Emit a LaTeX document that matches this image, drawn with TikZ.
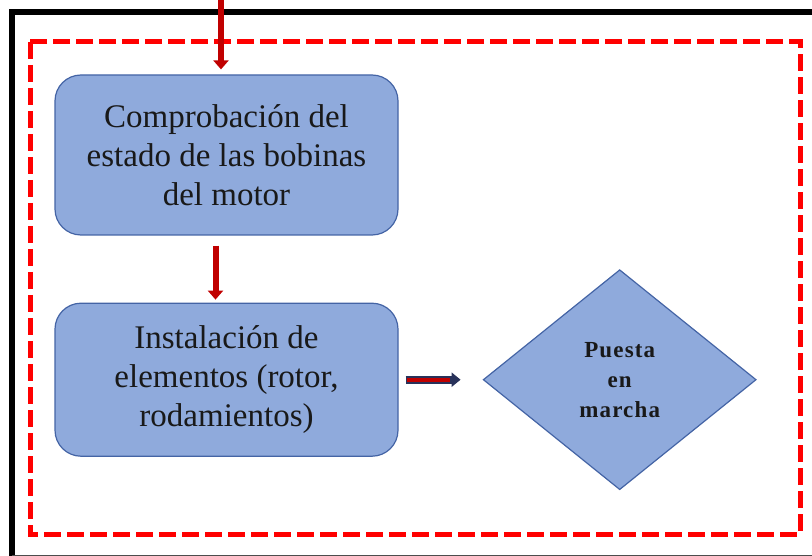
\documentclass[tikz,border=0pt]{standalone}
\usepackage{fontspec}
\setmainfont{Liberation Serif}
\definecolor{boxblue}{RGB}{143,170,220}
\definecolor{edgeblue}{RGB}{68,100,165}
\definecolor{darkred}{RGB}{192,0,0}
\definecolor{brightred}{RGB}{255,0,0}
\definecolor{navyline}{RGB}{40,50,90}
\definecolor{textgray}{RGB}{25,25,25}
\usetikzlibrary{arrows.meta, positioning, shapes.geometric}

\begin{document}
\begin{tikzpicture}[
      x=1pt, y=-1pt,
      box/.style={rectangle, rounded corners=26pt, draw=edgeblue, fill=boxblue, line width=1.2pt,
                  minimum width=343pt, minimum height=160pt, align=center, text=textgray,
                  font=\fontsize{33}{39}\selectfont},
      decision/.style={diamond, draw=edgeblue, fill=boxblue, line width=1.2pt, inner sep=0pt,
                  minimum width=273pt, minimum height=220pt, align=center, text=textgray,
                  font=\fontsize{23}{30}\selectfont\bfseries\addfontfeatures{LetterSpace=5}},
      arrow/.style={-{Triangle[width=15pt,length=9pt]}, line width=6pt, color=darkred},
      sidearrow/.style={-{Triangle[width=14pt,length=9pt]}, line width=8pt, color=navyline},
      frame/.style={line width=6pt, color=black},
      zone/.style={draw=brightred, line width=5pt, dash pattern=on 17pt off 6pt}
    ]
    \useasboundingbox (0,0) rectangle (812,556);

    % outer frame and dashed zone
    \draw[frame] (12,560) -- (12,12) -- (816,12);
    \draw[line width=1pt, color=black!70] (12,555.5) -- (812,555.5);
    \draw[zone] (30,42) rectangle (800,534);

    % steps
    \node[box] (check) at (226.5,155) {Comprobación del\\estado de las bobinas\\del motor};
    \node[box, minimum height=153pt, below=67pt of check] (install) {Instalación de\\elementos (rotor,\\rodamientos)};
    \node[decision, right=84pt of install] (start) {Puesta\\en\\marcha};

    % connectors
    \coordinate (entry) at (221,0);
    \draw[arrow, shorten >=5pt] (entry) -- (entry |- check.north);
    \draw[arrow, shorten <=10pt, shorten >=3pt] ([xshift=-11pt]check.south) -- ([xshift=-11pt]install.north);
    \draw[sidearrow, shorten <=7pt, shorten >=22pt] (install.east) -- (start.west);
    \draw[line width=4pt, color=darkred, shorten <=8.5pt, shorten >=33pt] (install.east) -- (start.west);

\end{tikzpicture}
\end{document}
